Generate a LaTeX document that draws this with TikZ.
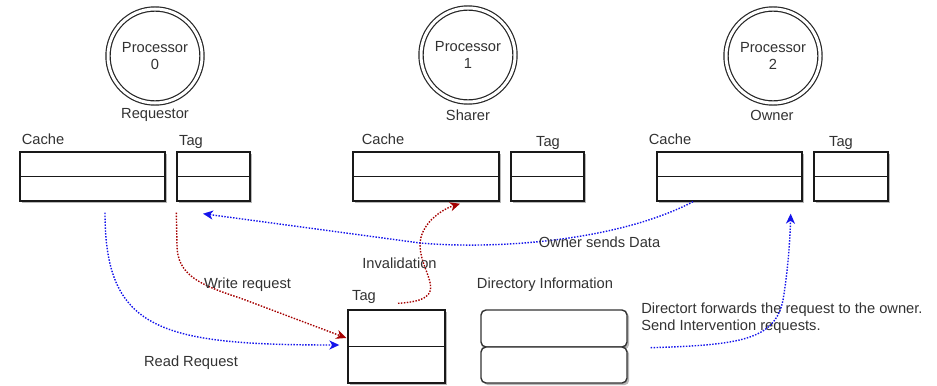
\documentclass[tikz,border=0pt]{standalone}
\usepackage{fontspec}
\setmainfont{Liberation Sans}
\usetikzlibrary{arrows.meta,shadows,calc}
\newdimen\pxu \pxu=0.75pt
\definecolor{flowblue}{RGB}{20,20,235}
\definecolor{flowred}{RGB}{165,0,0}
\definecolor{txt}{RGB}{50,50,50}

\begin{document}
\begin{tikzpicture}[x=0.75pt,y=-0.75pt,
  every node/.style={font=\fontsize{11}{12.75}\selectfont, text=txt},
  boxshadow/.style={drop shadow={shadow xshift=2.2\pxu, shadow yshift=-2.2\pxu, fill=black!28, opacity=1}},
  proc/.style={circle, draw=black!85, fill=white, double=white, double distance=3\pxu,
    line width=1.2\pxu, minimum size=94\pxu, inner sep=0pt, align=center,
    drop shadow={shadow xshift=1.5\pxu, shadow yshift=-1.5\pxu, fill=black!25, opacity=1}},
  cellbox/.style={draw=black!90, fill=white, line width=1.4\pxu, inner sep=0pt, boxshadow,
    path picture={\draw[black!90, line width=1.4\pxu]
      (path picture bounding box.west) -- (path picture bounding box.east);}},
  dirbox/.style={draw=black!80, fill=white, line width=1.4\pxu, inner sep=0pt,
    rounded corners=5\pxu, minimum width=146\pxu, boxshadow},
  flow/.style={dash pattern=on 1.1pt off 1.1pt, line width=1.05pt,
    -{Stealth[length=7.5pt, width=6.8pt, inset=2.2pt]}},
]
\useasboundingbox (0,0) rectangle (937,385);

% processors and their roles
\node[proc] (p0) at (155,56) {Processor\\0};
\node[proc] (p1) at (468,55) {Processor\\1};
\node[proc] (p2) at (773,56) {Processor\\2};
\node (r0) at (155,115) {Requestor};
\node (r1) at (468,115) {Sharer};
\node (r2) at (772,115) {Owner};

% caches and tag arrays of each processor
\node[cellbox, minimum width=145\pxu, minimum height=49\pxu] (c0) at (92.5,176.5) {};
\node[cellbox, minimum width=73\pxu,  minimum height=49\pxu] (t0) at (213.5,176.5) {};
\node[cellbox, minimum width=146\pxu, minimum height=49\pxu] (c1) at (426,176.5) {};
\node[cellbox, minimum width=73\pxu,  minimum height=49\pxu] (t1) at (547.5,176.5) {};
\node[cellbox, minimum width=145\pxu, minimum height=49\pxu] (c2) at (729.5,176.5) {};
\node[cellbox, minimum width=74\pxu,  minimum height=49\pxu] (t2) at (851,176.5) {};
\node (lc0) at (43,139) {Cache};
\node (lt0) at (191,142) {Tag};
\node (lc1) at (383,139) {Cache};
\node (lt1) at (548,143) {Tag};
\node (lc2) at (670,139) {Cache};
\node (lt2) at (841,143) {Tag};

% directory
\node[cellbox, minimum width=97\pxu, minimum height=73\pxu] (dt) at (396.5,346.5) {};
\node (ldt) at (364,297) {Tag};
\node[dirbox, minimum height=37\pxu] (di1) at (554,328.5) {};
\node[dirbox, minimum height=36\pxu] (di2) at (554,365) {};
\node (ldi) at (545,285) {Directory Information};
\node[anchor=west, align=left, inner sep=0pt] (note) at (641,318.5)
  {Directort forwards the request to the owner.\\Send Intervention requests.};

% connector end points
\coordinate (rdS) at ($(c0.south)+(12.5,11)$);
\coordinate (rdE) at ($(dt.west)+(-8,-1.5)$);
\coordinate (wrS) at ($(t0.south west)+(0,11)$);
\coordinate (wrE) at ($(dt.west)+(-1,-8.5)$);
\coordinate (invS) at ($(dt.north)+(1.5,-6)$);
\coordinate (invE) at ($(c1.south)+(34,2)$);
\coordinate (owS) at ($(c2.south)+(-36.5,0)$);
\coordinate (owE) at ($(t0.south)+(-10.5,12)$);
\coordinate (fwS) at ($(di1.south east)+(23,0)$);
\coordinate (fwE) at ($(c2.south east)+(-12,12)$);

% read request
\draw[flow, flowblue] (rdS) .. controls (105,330) and (160,345) .. (rdE);
\node (lrd) at (191,363) {Read Request};
% write request
\draw[flow, flowred] (wrS) -- (177,245) .. controls (177,275) and (200,285) .. (240,298) -- (wrE);
\node (lwr) at (247.5,285) {Write request};
% invalidation
\draw[flow, flowred] (invS) .. controls (455,300) and (420,275) .. (420,245)
  .. controls (420,225) and (440,210) .. (invE);
\node (linv) at (399.5,263) {Invalidation};
% owner sends data
\draw[flow, flowblue] (owS) .. controls (620,240) and (500,250) .. (420,243) -- (owE);
\node (low) at (599.5,242) {Owner sends Data};
% directory forwards to owner
\draw[flow, flowblue] (fwS) .. controls (740,345) and (775,340) .. (783,300)
  .. controls (788,270) and (790,240) .. (fwE);
\end{tikzpicture}
\end{document}
